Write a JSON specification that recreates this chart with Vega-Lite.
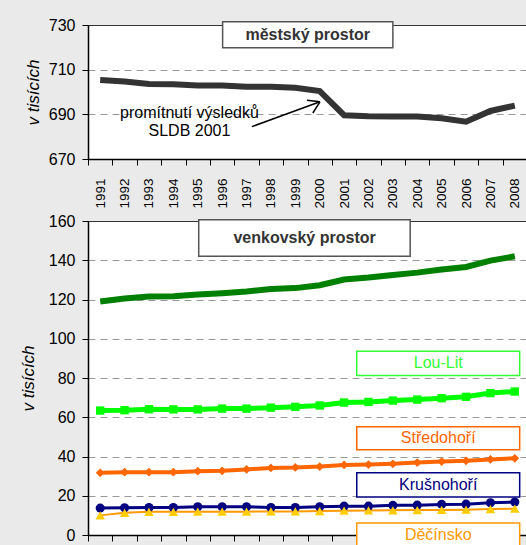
{
  "$schema": "https://vega.github.io/schema/vega-lite/v6.json",
  "background": "#eaeaea",
  "padding": {"left": 18, "top": 16, "right": 0, "bottom": 0},
  "spacing": 62,
  "bounds": "flush",
  "config": {
    "font": "Liberation Sans",
    "view": {"stroke": "#333333", "strokeWidth": 1, "fill": "white"},
    "axis": {
      "labelFont": "Liberation Sans", "titleFont": "Liberation Sans",
      "labelColor": "black", "titleColor": "black",
      "domainColor": "black", "domainWidth": 1.5,
      "tickColor": "black", "tickWidth": 1,
      "gridColor": "#999999", "gridDash": [7, 5], "gridWidth": 1,
      "labelOverlap": false
    }
  },
  "datasets": {
    "urban": [
      {"year": "1991", "value": 705.4}, {"year": "1992", "value": 704.7}, {"year": "1993", "value": 703.6},
      {"year": "1994", "value": 703.5}, {"year": "1995", "value": 702.9}, {"year": "1996", "value": 702.9},
      {"year": "1997", "value": 702.4}, {"year": "1998", "value": 702.3}, {"year": "1999", "value": 701.9},
      {"year": "2000", "value": 700.4}, {"year": "2001", "value": 689.6}, {"year": "2002", "value": 689.1},
      {"year": "2003", "value": 689.0}, {"year": "2004", "value": 689.0}, {"year": "2005", "value": 688.2},
      {"year": "2006", "value": 686.7}, {"year": "2007", "value": 691.5}, {"year": "2008", "value": 693.9}
    ],
    "rural": [
      {"year": "1991", "region": "venkovský prostor", "value": 119.0},
      {"year": "1992", "region": "venkovský prostor", "value": 120.5},
      {"year": "1993", "region": "venkovský prostor", "value": 121.5},
      {"year": "1994", "region": "venkovský prostor", "value": 121.7},
      {"year": "1995", "region": "venkovský prostor", "value": 122.5},
      {"year": "1996", "region": "venkovský prostor", "value": 123.2},
      {"year": "1997", "region": "venkovský prostor", "value": 124.1},
      {"year": "1998", "region": "venkovský prostor", "value": 125.3},
      {"year": "1999", "region": "venkovský prostor", "value": 125.8},
      {"year": "2000", "region": "venkovský prostor", "value": 127.3},
      {"year": "2001", "region": "venkovský prostor", "value": 130.2},
      {"year": "2002", "region": "venkovský prostor", "value": 131.2},
      {"year": "2003", "region": "venkovský prostor", "value": 132.5},
      {"year": "2004", "region": "venkovský prostor", "value": 133.7},
      {"year": "2005", "region": "venkovský prostor", "value": 135.3},
      {"year": "2006", "region": "venkovský prostor", "value": 136.6},
      {"year": "2007", "region": "venkovský prostor", "value": 139.8},
      {"year": "2008", "region": "venkovský prostor", "value": 142.0},
      {"year": "1991", "region": "Lou-Lit", "value": 63.4},
      {"year": "1992", "region": "Lou-Lit", "value": 63.6},
      {"year": "1993", "region": "Lou-Lit", "value": 64.1},
      {"year": "1994", "region": "Lou-Lit", "value": 64.0},
      {"year": "1995", "region": "Lou-Lit", "value": 64.0},
      {"year": "1996", "region": "Lou-Lit", "value": 64.4},
      {"year": "1997", "region": "Lou-Lit", "value": 64.4},
      {"year": "1998", "region": "Lou-Lit", "value": 64.9},
      {"year": "1999", "region": "Lou-Lit", "value": 65.3},
      {"year": "2000", "region": "Lou-Lit", "value": 66.0},
      {"year": "2001", "region": "Lou-Lit", "value": 67.5},
      {"year": "2002", "region": "Lou-Lit", "value": 67.8},
      {"year": "2003", "region": "Lou-Lit", "value": 68.5},
      {"year": "2004", "region": "Lou-Lit", "value": 69.0},
      {"year": "2005", "region": "Lou-Lit", "value": 69.7},
      {"year": "2006", "region": "Lou-Lit", "value": 70.4},
      {"year": "2007", "region": "Lou-Lit", "value": 72.3},
      {"year": "2008", "region": "Lou-Lit", "value": 73.1},
      {"year": "1991", "region": "Středohoří", "value": 31.7},
      {"year": "1992", "region": "Středohoří", "value": 32.0},
      {"year": "1993", "region": "Středohoří", "value": 32.0},
      {"year": "1994", "region": "Středohoří", "value": 32.0},
      {"year": "1995", "region": "Středohoří", "value": 32.5},
      {"year": "1996", "region": "Středohoří", "value": 32.7},
      {"year": "1997", "region": "Středohoří", "value": 33.4},
      {"year": "1998", "region": "Středohoří", "value": 34.2},
      {"year": "1999", "region": "Středohoří", "value": 34.4},
      {"year": "2000", "region": "Středohoří", "value": 34.9},
      {"year": "2001", "region": "Středohoří", "value": 35.7},
      {"year": "2002", "region": "Středohoří", "value": 35.9},
      {"year": "2003", "region": "Středohoří", "value": 36.3},
      {"year": "2004", "region": "Středohoří", "value": 36.9},
      {"year": "2005", "region": "Středohoří", "value": 37.4},
      {"year": "2006", "region": "Středohoří", "value": 37.8},
      {"year": "2007", "region": "Středohoří", "value": 38.5},
      {"year": "2008", "region": "Středohoří", "value": 39.1},
      {"year": "1991", "region": "Krušnohoří", "value": 13.7},
      {"year": "1992", "region": "Krušnohoří", "value": 13.9},
      {"year": "1993", "region": "Krušnohoří", "value": 14.0},
      {"year": "1994", "region": "Krušnohoří", "value": 14.0},
      {"year": "1995", "region": "Krušnohoří", "value": 14.4},
      {"year": "1996", "region": "Krušnohoří", "value": 14.4},
      {"year": "1997", "region": "Krušnohoří", "value": 14.4},
      {"year": "1998", "region": "Krušnohoří", "value": 14.0},
      {"year": "1999", "region": "Krušnohoří", "value": 14.0},
      {"year": "2000", "region": "Krušnohoří", "value": 14.4},
      {"year": "2001", "region": "Krušnohoří", "value": 14.7},
      {"year": "2002", "region": "Krušnohoří", "value": 14.7},
      {"year": "2003", "region": "Krušnohoří", "value": 15.1},
      {"year": "2004", "region": "Krušnohoří", "value": 15.2},
      {"year": "2005", "region": "Krušnohoří", "value": 15.6},
      {"year": "2006", "region": "Krušnohoří", "value": 15.7},
      {"year": "2007", "region": "Krušnohoří", "value": 16.4},
      {"year": "2008", "region": "Krušnohoří", "value": 16.8},
      {"year": "1991", "region": "Děčínsko", "value": 10.0},
      {"year": "1992", "region": "Děčínsko", "value": 11.3},
      {"year": "1993", "region": "Děčínsko", "value": 11.8},
      {"year": "1994", "region": "Děčínsko", "value": 11.8},
      {"year": "1995", "region": "Děčínsko", "value": 11.9},
      {"year": "1996", "region": "Děčínsko", "value": 11.9},
      {"year": "1997", "region": "Děčínsko", "value": 11.9},
      {"year": "1998", "region": "Děčínsko", "value": 12.0},
      {"year": "1999", "region": "Děčínsko", "value": 12.0},
      {"year": "2000", "region": "Děčínsko", "value": 12.2},
      {"year": "2001", "region": "Děčínsko", "value": 12.4},
      {"year": "2002", "region": "Děčínsko", "value": 12.5},
      {"year": "2003", "region": "Děčínsko", "value": 12.6},
      {"year": "2004", "region": "Děčínsko", "value": 12.7},
      {"year": "2005", "region": "Děčínsko", "value": 12.8},
      {"year": "2006", "region": "Děčínsko", "value": 12.9},
      {"year": "2007", "region": "Děčínsko", "value": 13.2},
      {"year": "2008", "region": "Děčínsko", "value": 13.4}
    ]
  },
  "vconcat": [
    {
      "width": 439,
      "height": 134,
      "layer": [
        {
          "data": {"name": "urban"},
          "mark": {"type": "line", "color": "#333333", "strokeWidth": 6},
          "encoding": {
            "x": {
              "field": "year", "type": "ordinal",
              "scale": {"type": "band", "paddingInner": 0, "paddingOuter": 0},
              "axis": {"title": null, "labelAngle": -90, "labelFontSize": 13.5, "tickBand": "extent", "tickSize": 6, "labelPadding": 13, "grid": false}
            },
            "y": {
              "field": "value", "type": "quantitative",
              "scale": {"domain": [670, 730], "nice": false, "zero": false},
              "axis": {
                "values": [670, 690, 710, 730], "tickCount": 10, "title": "v tisících",
                "titleFontStyle": "italic", "titleFontWeight": "normal", "titleFontSize": 17, "titlePadding": 6,
                "labelFontSize": 16, "tickSize": 6, "labelPadding": 7,
                "gridOpacity": {"condition": {"test": "datum.value === 670 || datum.value === 730", "value": 0}, "value": 1}
              }
            }
          }
        },
        {
          "data": {"values": [{}]},
          "mark": {"type": "rect", "fill": "white", "stroke": "#555555", "strokeWidth": 1.5},
          "encoding": {
            "x": {"datum": 5.52, "type": "quantitative", "scale": {"domain": [0, 18], "nice": false}, "axis": null},
            "x2": {"datum": 12.5},
            "y": {"datum": 731.5, "type": "quantitative"},
            "y2": {"datum": 719.8}
          }
        },
        {
          "data": {"values": [{}]},
          "mark": {"type": "text", "fontSize": 16, "fontWeight": "bold", "color": "#333333", "baseline": "middle", "align": "center"},
          "encoding": {
            "x": {"datum": 9.01, "type": "quantitative", "scale": {"domain": [0, 18], "nice": false}, "axis": null},
            "y": {"datum": 725.6, "type": "quantitative"},
            "text": {"value": "městský prostor"}
          }
        },
        {
          "data": {"values": [{}]},
          "mark": {"type": "text", "fontSize": 16, "color": "black", "baseline": "middle", "align": "center"},
          "encoding": {
            "x": {"datum": 4.16, "type": "quantitative", "scale": {"domain": [0, 18], "nice": false}, "axis": null},
            "y": {"datum": 690.8, "type": "quantitative"},
            "text": {"value": "promítnutí výsledků"}
          }
        },
        {
          "data": {"values": [{}]},
          "mark": {"type": "text", "fontSize": 16, "color": "black", "baseline": "middle", "align": "center"},
          "encoding": {
            "x": {"datum": 4.16, "type": "quantitative", "scale": {"domain": [0, 18], "nice": false}, "axis": null},
            "y": {"datum": 682.6, "type": "quantitative"},
            "text": {"value": "SLDB 2001"}
          }
        },
        {
          "data": {"values": [{}]},
          "mark": {"type": "rule", "color": "black", "strokeWidth": 1.5},
          "encoding": {
            "x": {"datum": 6.72, "type": "quantitative", "scale": {"domain": [0, 18], "nice": false}, "axis": null},
            "x2": {"datum": 9.51},
            "y": {"datum": 684.5, "type": "quantitative"},
            "y2": {"datum": 695.6}
          }
        },
        {
          "data": {"values": [{}]},
          "mark": {"type": "rule", "color": "black", "strokeWidth": 1.5},
          "encoding": {
            "x": {"datum": 8.98, "type": "quantitative", "scale": {"domain": [0, 18], "nice": false}, "axis": null},
            "x2": {"datum": 9.51},
            "y": {"datum": 696.3, "type": "quantitative"},
            "y2": {"datum": 695.6}
          }
        },
        {
          "data": {"values": [{}]},
          "mark": {"type": "rule", "color": "black", "strokeWidth": 1.5},
          "encoding": {
            "x": {"datum": 9.22, "type": "quantitative", "scale": {"domain": [0, 18], "nice": false}, "axis": null},
            "x2": {"datum": 9.51},
            "y": {"datum": 690.6, "type": "quantitative"},
            "y2": {"datum": 695.6}
          }
        }
      ],
      "resolve": {"scale": {"x": "independent"}}
    },
    {
      "width": 439,
      "height": 314,
      "layer": [
        {
          "data": {"name": "rural"},
          "encoding": {
            "x": {
              "field": "year", "type": "ordinal",
              "scale": {"type": "band", "paddingInner": 0, "paddingOuter": 0},
              "axis": {"title": null, "labels": false, "tickBand": "extent", "tickSize": 6, "grid": false}
            },
            "y": {
              "field": "value", "type": "quantitative",
              "scale": {"domain": [0, 160], "nice": false},
              "axis": {
                "values": [0, 20, 40, 60, 80, 100, 120, 140, 160], "tickCount": 20, "title": "v tisících",
                "titleFontStyle": "italic", "titleFontWeight": "normal", "titleFontSize": 17, "titlePadding": 11,
                "labelFontSize": 16, "tickSize": 6, "labelPadding": 7,
                "gridOpacity": {"condition": {"test": "datum.value === 0 || datum.value === 160", "value": 0}, "value": 1}
              }
            }
          },
          "layer": [
            {
              "mark": {"type": "line"},
              "encoding": {
                "color": {
                  "field": "region", "type": "nominal", "legend": null,
                  "scale": {"domain": ["venkovský prostor", "Lou-Lit", "Středohoří", "Krušnohoří", "Děčínsko"], "range": ["#008000", "#00ff00", "#ff6600", "#000080", "#ff9900"]}
                },
                "strokeWidth": {
                  "field": "region", "type": "nominal", "legend": null,
                  "scale": {"domain": ["venkovský prostor", "Lou-Lit", "Středohoří", "Krušnohoří", "Děčínsko"], "range": [6, 2, 2.5, 2.5, 2.5]}
                }
              }
            },
            {
              "transform": [{"filter": "datum.region !== 'venkovský prostor'"}],
              "mark": {"type": "point", "filled": true, "opacity": 1},
              "encoding": {
                "fill": {
                  "field": "region", "type": "nominal", "legend": null,
                  "scale": {"domain": ["Lou-Lit", "Středohoří", "Krušnohoří", "Děčínsko"], "range": ["#00ff00", "#ff6600", "#000080", "#ffcc00"]}
                },
                "shape": {
                  "field": "region", "type": "nominal", "legend": null,
                  "scale": {"domain": ["Lou-Lit", "Středohoří", "Krušnohoří", "Děčínsko"], "range": ["square", "diamond", "circle", "triangle-up"]}
                },
                "size": {
                  "field": "region", "type": "nominal", "legend": null,
                  "scale": {"domain": ["Lou-Lit", "Středohoří", "Krušnohoří", "Děčínsko"], "range": [70, 90, 55, 80]}
                }
              }
            }
          ]
        },
        {
          "data": {"values": [{}]},
          "mark": {"type": "rect", "fill": "white", "stroke": "#555555", "strokeWidth": 1.5},
          "encoding": {
            "x": {"datum": 4.54, "type": "quantitative", "scale": {"domain": [0, 18], "nice": false}, "axis": null},
            "x2": {"datum": 13.21},
            "y": {"datum": 160.6, "type": "quantitative"},
            "y2": {"datum": 142.0}
          }
        },
        {
          "data": {"values": [{}]},
          "mark": {"type": "text", "fontSize": 16, "fontWeight": "bold", "color": "#333333", "baseline": "middle", "align": "center"},
          "encoding": {
            "x": {"datum": 8.88, "type": "quantitative", "scale": {"domain": [0, 18], "nice": false}, "axis": null},
            "y": {"datum": 151.3, "type": "quantitative"},
            "text": {"value": "venkovský prostor"}
          }
        },
        {
          "data": {"values": [{}]},
          "mark": {"type": "rect", "fill": "white", "stroke": "#33ff33", "strokeWidth": 1.5},
          "encoding": {
            "x": {"datum": 11.02, "type": "quantitative", "scale": {"domain": [0, 18], "nice": false}, "axis": null},
            "x2": {"datum": 17.7},
            "y": {"datum": 93.6, "type": "quantitative"},
            "y2": {"datum": 81.3}
          }
        },
        {
          "data": {"values": [{}]},
          "mark": {"type": "text", "fontSize": 16, "color": "#33ff33", "baseline": "middle", "align": "center"},
          "encoding": {
            "x": {"datum": 14.36, "type": "quantitative", "scale": {"domain": [0, 18], "nice": false}, "axis": null},
            "y": {"datum": 87.4, "type": "quantitative"},
            "text": {"value": "Lou-Lit"}
          }
        },
        {
          "data": {"values": [{}]},
          "mark": {"type": "rect", "fill": "white", "stroke": "#ff6600", "strokeWidth": 1.5},
          "encoding": {
            "x": {"datum": 11.02, "type": "quantitative", "scale": {"domain": [0, 18], "nice": false}, "axis": null},
            "x2": {"datum": 17.7},
            "y": {"datum": 55.2, "type": "quantitative"},
            "y2": {"datum": 43.5}
          }
        },
        {
          "data": {"values": [{}]},
          "mark": {"type": "text", "fontSize": 16, "color": "#ff6600", "baseline": "middle", "align": "center"},
          "encoding": {
            "x": {"datum": 14.36, "type": "quantitative", "scale": {"domain": [0, 18], "nice": false}, "axis": null},
            "y": {"datum": 49.3, "type": "quantitative"},
            "text": {"value": "Středohoří"}
          }
        },
        {
          "data": {"values": [{}]},
          "mark": {"type": "rect", "fill": "white", "stroke": "#000080", "strokeWidth": 1.5},
          "encoding": {
            "x": {"datum": 11.02, "type": "quantitative", "scale": {"domain": [0, 18], "nice": false}, "axis": null},
            "x2": {"datum": 17.7},
            "y": {"datum": 31.7, "type": "quantitative"},
            "y2": {"datum": 19.4}
          }
        },
        {
          "data": {"values": [{}]},
          "mark": {"type": "text", "fontSize": 16, "color": "#000080", "baseline": "middle", "align": "center"},
          "encoding": {
            "x": {"datum": 14.36, "type": "quantitative", "scale": {"domain": [0, 18], "nice": false}, "axis": null},
            "y": {"datum": 25.5, "type": "quantitative"},
            "text": {"value": "Krušnohoří"}
          }
        },
        {
          "data": {"values": [{}]},
          "mark": {"type": "rect", "fill": "white", "stroke": "#ff9900", "strokeWidth": 1.5},
          "encoding": {
            "x": {"datum": 11.02, "type": "quantitative", "scale": {"domain": [0, 18], "nice": false}, "axis": null},
            "x2": {"datum": 17.7},
            "y": {"datum": 6.1, "type": "quantitative"},
            "y2": {"datum": -6.2}
          }
        },
        {
          "data": {"values": [{}]},
          "mark": {"type": "text", "fontSize": 16, "color": "#ff9900", "baseline": "middle", "align": "center"},
          "encoding": {
            "x": {"datum": 14.36, "type": "quantitative", "scale": {"domain": [0, 18], "nice": false}, "axis": null},
            "y": {"datum": 0.2, "type": "quantitative"},
            "text": {"value": "Děčínsko"}
          }
        }
      ],
      "resolve": {"scale": {"x": "independent"}}
    }
  ]
}
